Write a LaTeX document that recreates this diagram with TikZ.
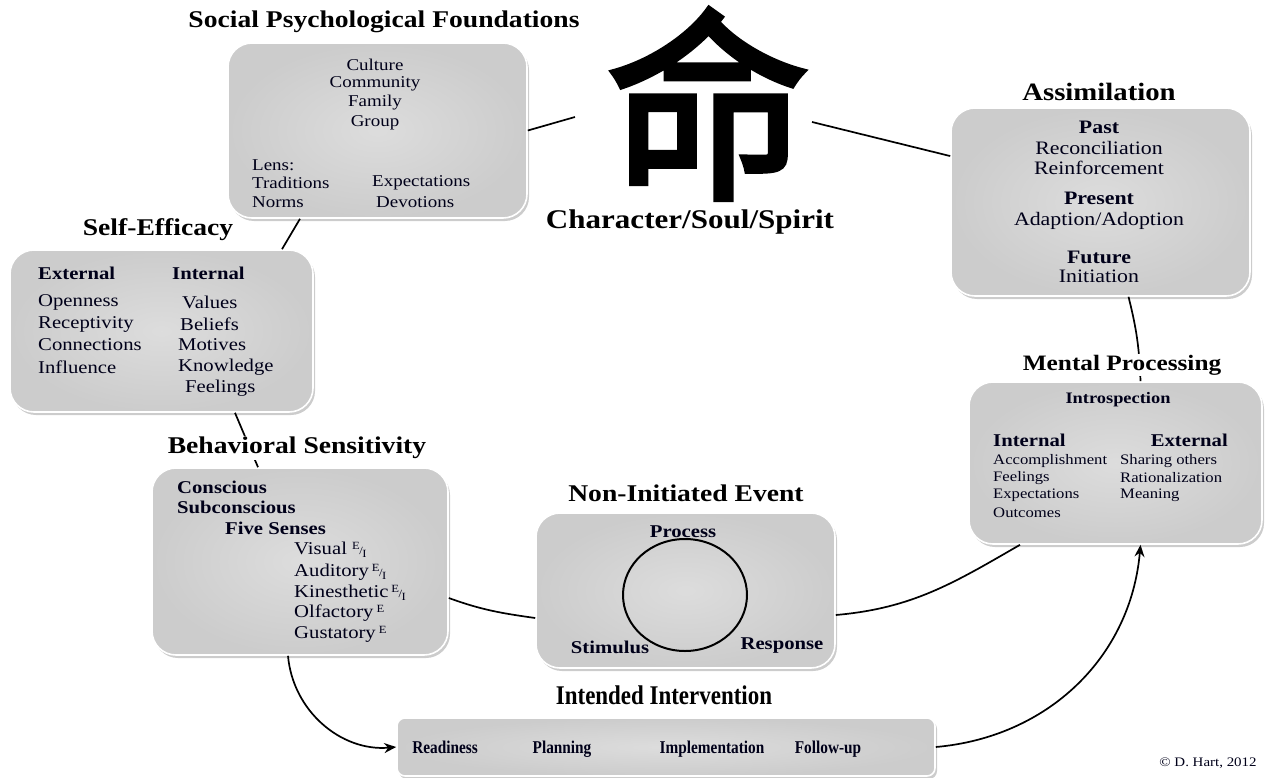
\documentclass[tikz,border=0pt]{standalone}
\usepackage{fontspec}
\setmainfont{Liberation Serif}[FakeStretch=1.15]
\newfontfamily\condfont{Liberation Serif}[FakeStretch=0.85]
\newfontfamily\cjk{Noto Sans CJK SC}[FakeBold=2.5]
\usetikzlibrary{shadows,arrows.meta}
\newcommand{\fsz}[1]{\fontsize{#1}{#1}\selectfont}
\newcommand{\EI}{{\fsz{11}\raisebox{5pt}{E}\kern-0.5pt/\kern-0.5pt\raisebox{-3pt}{I}}}
\newcommand{\Esup}{{\fsz{11}\raisebox{5pt}{E}}}
\begin{document}
\begin{tikzpicture}[x=1pt,y=-1pt,
  panel/.style={rounded corners=24pt, draw=white, line width=1.6pt,
    inner color=gray!27, outer color=gray!40,
    drop shadow={opacity=0.4,shadow xshift=2pt,shadow yshift=-3pt}},
  ttl/.style={font=\fsz{24}\bfseries, fill=white, inner sep=1pt},
  tx/.style={inner sep=0pt, text=black!90!blue},
  conn/.style={line width=1.7pt, black},
  arr/.style={conn, -{Stealth[length=12pt,width=10pt]}}]
\useasboundingbox (0,0) rectangle (1265,778);

% panels
\node[panel, minimum width=299pt, minimum height=175pt] (spf) at (377.5,130.5) {};
\node[panel, minimum width=303pt, minimum height=162pt] (se) at (161.5,331) {};
\node[panel, minimum width=296pt, minimum height=187pt] (bs) at (300,561.5) {};
\node[panel, minimum width=299pt, minimum height=155pt] (nie) at (685.5,590.5) {};
\node[panel, minimum width=299pt, minimum height=188pt] (assim) at (1100.5,202) {};
\node[panel, minimum width=293pt, minimum height=162pt] (mp) at (1115.5,463) {};
\node[panel, rounded corners=8pt, minimum width=538pt, minimum height=58pt] (iv) at (666,747) {};

% character
\node[inner sep=0pt, font=\cjk\fsz{205}] (ming) at (708,104) {命};
\coordinate (m1) at (575,117);
\coordinate (m2) at (812,122);

% connectors
\draw[conn] (spf.east) -- (m1);
\draw[conn] (m2) -- (assim.163.6);
\draw[conn] ([xshift=28pt]assim.south) to[bend left=6] ([xshift=25pt]mp.north);
\draw[conn] ([xshift=-77.5pt]spf.south) -- ([xshift=120.5pt]se.north);
\draw[conn] ([xshift=73.5pt]se.south) -- ([xshift=-42pt]bs.north);
\draw[conn] ([yshift=-36.5pt]bs.east) to[out=-20,in=172] ([yshift=-27.5pt]nie.west);
\draw[conn] ([yshift=-24.5pt]nie.east) to[out=5,in=-150] ([xshift=-95.5pt]mp.south);
\draw[arr] ([xshift=-12pt]bs.south) to[out=-85,in=185] (iv.west);
\draw[arr] (iv.east) to[out=5,in=-95] ([xshift=25pt]mp.south);

% titles
\node[ttl] (tspf) at (384,22) {Social Psychological Foundations};
\node[ttl] (tse) at (158,230) {Self-Efficacy};
\node[ttl] (tbs) at (297,448) {Behavioral Sensitivity};
\node[ttl] (tnie) at (686,493) {Non-Initiated Event};
\node[ttl, font=\fsz{25}\bfseries] (tas) at (1099,92) {Assimilation};
\node[ttl, font=\fsz{22}\bfseries] (tmp) at (1122,365) {Mental Processing};
\node[ttl, font=\fsz{27}\bfseries] (tch) at (690,222) {Character/Soul/Spirit};
\node[ttl, font=\condfont\fsz{27}\bfseries] (tiv) at (664,695) {Intended Intervention};

% SPF contents
\begin{scope}[every node/.style={tx, font=\fsz{16.5}}]
\node (s1) at (375,65) {Culture};
\node (s2) at (375,84) {Community};
\node (s3) at (375,103) {Family};
\node (s4) at (375,123) {Group};
\node[anchor=west] (s5) at (252,165) {Lens:};
\node[anchor=west] (s6) at (252,183) {Traditions};
\node[anchor=west] (s7) at (252,202) {Norms};
\node[anchor=west] (s8) at (372,183) {Expectations};
\node[anchor=west] (s9) at (376,202) {Devotions};
\end{scope}

% Self-efficacy contents
\begin{scope}[every node/.style={tx, anchor=west, font=\fsz{18}}]
\node[font=\fsz{18}\bfseries] (e1) at (38,273) {External};
\node[font=\fsz{18}\bfseries] (e2) at (172,273) {Internal};
\node (e3) at (38,302) {Openness};
\node (e4) at (38,324) {Receptivity};
\node (e5) at (38,345) {Connections};
\node (e6) at (38,367) {Influence};
\node (e7) at (182,302) {Values};
\node (e8) at (180,324) {Beliefs};
\node (e9) at (178,345) {Motives};
\node (e10) at (178,367) {Knowledge};
\node (e11) at (185,388) {Feelings};
\end{scope}

% Behavioral contents
\begin{scope}[every node/.style={tx, anchor=west, font=\fsz{18}}]
\node[font=\fsz{18}\bfseries] (b1) at (177,487) {Conscious};
\node[font=\fsz{18}\bfseries] (b2) at (177,507) {Subconscious};
\node[font=\fsz{18}\bfseries] (b3) at (225,528) {Five Senses};
\node (b4) at (294,550) {Visual \EI};
\node (b5) at (294,572) {Auditory\,\EI};
\node (b6) at (294,593) {Kinesthetic\,\EI};
\node (b7) at (294,613) {Olfactory\,\Esup};
\node (b8) at (294,634) {Gustatory\,\Esup};
\end{scope}

% NIE contents
\draw[line width=2pt] (685,595) ellipse [x radius=62pt, y radius=56pt];
\begin{scope}[every node/.style={tx, anchor=base, font=\fsz{18}\bfseries}]
\node (n1) at (683,537) {Process};
\node (n2) at (610,653) {Stimulus};
\node (n3) at (782,649) {Response};
\end{scope}

% Assimilation contents
\begin{scope}[every node/.style={tx, font=\fsz{19}}]
\node[font=\fsz{19}\bfseries] (a1) at (1099,127) {Past};
\node (a2) at (1099,148) {Reconciliation};
\node (a3) at (1099,168) {Reinforcement};
\node[font=\fsz{19}\bfseries] (a4) at (1099,198) {Present};
\node (a5) at (1099,221) {Adaption/Adoption};
\node[font=\fsz{19}\bfseries] (a6) at (1099,257) {Future};
\node (a7) at (1099,276) {Initiation};
\end{scope}

% Mental processing contents
\begin{scope}[every node/.style={tx, anchor=west, font=\fsz{14.5}}]
\node[anchor=center, font=\fsz{16}\bfseries] (p1) at (1118,400) {Introspection};
\node[font=\fsz{18}\bfseries] (p2) at (993,440) {Internal};
\node[anchor=east, font=\fsz{18}\bfseries] (p3) at (1228,440) {External};
\node (p4) at (993,461) {Accomplishment};
\node (p5) at (993,478) {Feelings};
\node (p6) at (993,495) {Expectations};
\node (p7) at (993,513) {Outcomes};
\node (p8) at (1120,461) {Sharing others};
\node (p9) at (1120,478) {Rationalization};
\node (p10) at (1120,495) {Meaning};
\end{scope}

% Intended intervention contents
\begin{scope}[every node/.style={tx, anchor=base, font=\condfont\fsz{18}\bfseries}]
\node (i1) at (445,753) {Readiness};
\node (i2) at (562,753) {Planning};
\node (i3) at (712,753) {Implementation};
\node (i4) at (828,753) {Follow-up};
\end{scope}

\node[tx, font=\fsz{13}] (copy) at (1208,763) {\textcopyright\ D. Hart, 2012};
\end{tikzpicture}
\end{document}
